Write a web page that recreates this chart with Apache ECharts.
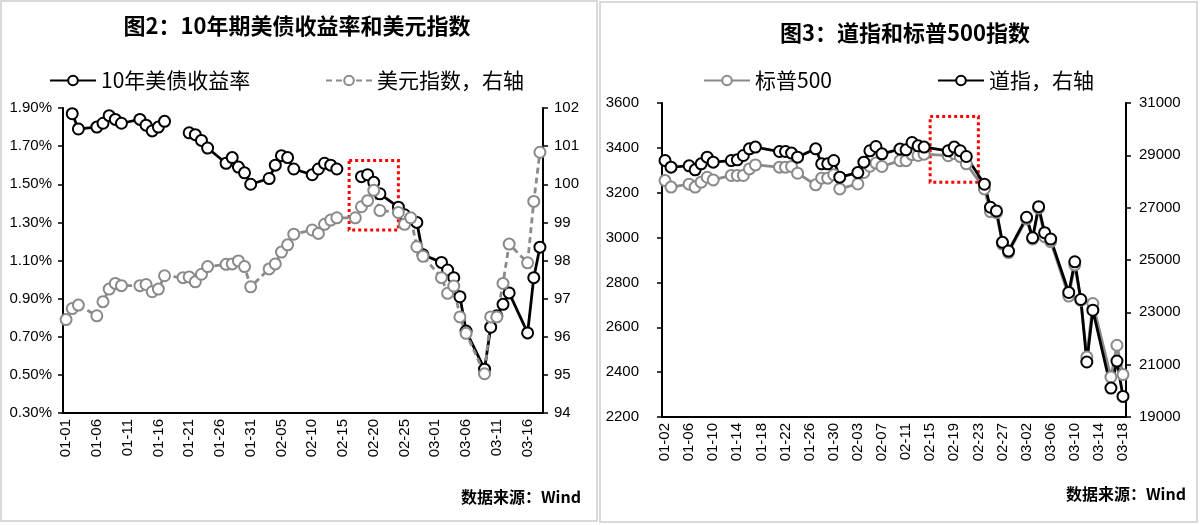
<!DOCTYPE html>
<html>
<head>
<meta charset="utf-8">
<title>图2 图3</title>
<script src="https://cdn.jsdelivr.net/npm/echarts@6/dist/echarts.min.js"></script>
<style>
html,body{margin:0;padding:0;background:#fff;}
#main{width:1201px;height:525px;}
</style>
</head>
<body>
<div id="main"></div>
<script>
// 左图：10年美债收益率(%)和美元指数(右轴)，null 为当日无数据(断线)
var bondDates = ['01-01','01-02','01-03','01-06','01-07','01-08','01-09','01-10','01-13','01-14','01-15','01-16','01-17','01-20','01-21','01-22','01-23','01-24','01-27','01-28','01-29','01-30','01-31',
                 '02-03','02-04','02-05','02-06','02-07','02-10','02-11','02-12','02-13','02-14','02-17','02-18','02-19','02-20','02-21','02-24','02-25','02-26','02-27','02-28',
                 '03-02','03-03','03-04','03-05','03-06','03-09','03-10','03-11','03-12','03-13','03-16','03-17','03-18'];
var yield10y = [null,1.87,1.79,1.80,1.82,1.86,1.84,1.82,1.84,1.81,1.78,1.80,1.83,null,1.77,1.76,1.73,1.69,1.61,1.64,1.59,1.56,1.50,
                1.53,1.60,1.65,1.64,1.58,1.55,1.58,1.61,1.60,1.58,null,1.54,1.55,1.51,1.45,1.38,1.34,1.32,1.30,1.13,
                1.09,1.05,1.01,0.91,0.73,0.53,0.75,0.81,0.87,0.93,0.72,1.01,1.17];
var dxy = [96.45,96.74,96.83,96.55,96.92,97.25,97.40,97.34,97.34,97.37,97.18,97.25,97.60,97.55,97.57,97.44,97.64,97.84,97.90,97.91,97.99,97.84,97.31,
           97.78,97.91,98.22,98.41,98.69,98.80,98.71,98.95,99.06,99.12,99.12,99.41,99.57,99.84,99.31,99.26,98.95,99.12,98.36,98.11,
           97.55,97.14,97.33,96.52,96.09,95.03,96.52,96.52,97.40,98.43,97.94,99.55,100.84];
var yieldTicks = [0.3,0.5,0.7,0.9,1.1,1.3,1.5,1.7,1.9];

// 右图：标普500和道指(右轴)
var stockDates = ['01-02','01-03','01-06','01-07','01-08','01-09','01-10','01-13','01-14','01-15','01-16','01-17','01-21','01-22','01-23','01-24','01-27','01-28','01-29','01-30','01-31',
                  '02-03','02-04','02-05','02-06','02-07','02-10','02-11','02-12','02-13','02-14','02-18','02-19','02-20','02-21','02-24','02-25','02-26','02-27','02-28',
                  '03-02','03-03','03-04','03-05','03-06','03-09','03-10','03-11','03-12','03-13','03-16','03-17','03-18'];
var spx = [3254,3225,3238,3225,3247,3269,3257,3277,3277,3277,3306,3324,3314,3314,3317,3287,3235,3265,3265,3280,3217,
           3239,3290,3318,3332,3317,3343,3343,3370,3366,3372,3365,3375,3361,3329,3217,3116,3111,2971,2933,
           3083,2994,3131,3004,2982,2739,2878,2721,2468,2706,2378,2520,2389];
var dow = [28801,28548,28598,28445,28675,28931,28740,28801,28828,28993,29249,29314,29146,29146,29085,28931,29249,28675,28675,28801,28165,
           28341,28740,29173,29337,29058,29238,29211,29491,29364,29314,29173,29314,29173,28955,27897,27016,26874,25675,25342,
           26633,25851,27039,26043,25801,23760,24932,23491,21101,23081,20105,21139,19787];

// 横轴按自然日排列(2020年，2月29天)
function calendar(m0, d0, m1, d1){
    var len = [31,29,31], out = [];
    for(var m=m0;m<=m1;m++){
        for(var d=(m==m0?d0:1); d<=(m==m1?d1:len[m-1]); d++){
            out.push('0'+m+'-'+(d<10?'0'+d:d));
        }
    }
    return out;
}
var leftDays = calendar(1,1,3,18);
var rightDays = calendar(1,2,3,18);

function pairs(dates, vals){
    var r=[];
    for(var i=0;i<dates.length;i++){
        r.push([dates[i], vals[i]==null ? '-' : vals[i]]);
    }
    return r;
}

var FONT = '"Liberation Sans", Arial, sans-serif';
var CJK = '"Noto Sans CJK SC", sans-serif';

function xAxisOf(grid, days, step){
    return {
        gridIndex: grid, type: 'category', data: days, boundaryGap: true,
        axisLine: {lineStyle: {color: '#000', width: 2}},
        axisTick: {inside: true, length: 5, interval: step-1, lineStyle: {color: '#000', width: 1.5}},
        axisLabel: {interval: step-1, rotate: 90, fontSize: 15, color: '#000', fontFamily: FONT, margin: 6},
        splitLine: {show: false}
    };
}
function yAxisOf(grid, pos, min, max, interval, margin, fmt){
    return {
        gridIndex: grid, type: 'value', position: pos, min: min, max: max, interval: interval,
        axisLine: {show: true, lineStyle: {color: '#000', width: 2}},
        axisTick: {show: true, length: 5, lineStyle: {color: '#000', width: 1.5}},
        axisLabel: {fontSize: 15, color: '#000', fontFamily: FONT, margin: margin,
                    formatter: fmt || function(v){ return String(v); }},
        splitLine: {show: false}
    };
}

var yieldAxis = yAxisOf(0, 'left', 0.3, 1.9, null, 11, function(v){ return v.toFixed(2)+'%'; });
delete yieldAxis.interval;
yieldAxis.axisLabel.customValues = yieldTicks;
yieldAxis.axisTick.customValues = yieldTicks;

var redBox = {
    silent: true,
    itemStyle: {color: 'rgba(0,0,0,0)', borderColor: '#ff0000', borderWidth: 3, borderType: 'dotted'}
};

function lineSeries(name, xi, yi, dates, vals, color, dashed){
    return {
        name: name, type: 'line', xAxisIndex: xi, yAxisIndex: yi,
        data: pairs(dates, vals), connectNulls: false,
        symbol: 'emptyCircle', symbolSize: 11, showAllSymbol: true,
        lineStyle: {color: color, width: 2.8, type: dashed ? [6, 4] : 'solid'},
        itemStyle: {color: color, borderColor: color, borderWidth: 2.2}
    };
}

var s1 = lineSeries('10年美债收益率', 0, 0, bondDates, yield10y, '#000');
s1.markArea = Object.assign({data: [[{xAxis: '02-16', yAxis: 1.625}, {xAxis: '02-24', yAxis: 1.26}]]}, redBox);
var s2 = lineSeries('美元指数，右轴', 0, 1, bondDates, dxy, '#8a8a8a', true);
var s3 = lineSeries('标普500', 1, 2, stockDates, spx, '#8a8a8a');
s3.markArea = Object.assign({data: [[{xAxis: '02-15', yAxis: 3540}, {xAxis: '02-23', yAxis: 3247}]]}, redBox);
var s4 = lineSeries('道指，右轴', 1, 3, stockDates, dow, '#000');

var myChart = echarts.init(document.getElementById('main'));
var option = {
    backgroundColor: '#fff',
    animation: false,
    grid: [
        {left: 63, top: 108, width: 480, height: 305},
        {left: 662, top: 103, width: 464, height: 314}
    ],
    xAxis: [xAxisOf(0, leftDays, 5), xAxisOf(1, rightDays, 4)],
    yAxis: [
        yieldAxis,
        yAxisOf(0, 'right', 94, 102, 1, 11),
        yAxisOf(1, 'left', 2200, 3600, 200, 23),
        yAxisOf(1, 'right', 19000, 31000, 2000, 13)
    ],
    legend: [
        {data: ['10年美债收益率'], left: 44, top: 65},
        {data: ['美元指数，右轴'], left: 320, top: 65},
        {data: ['标普500'], left: 698, top: 65},
        {data: ['道指，右轴'], left: 932, top: 65}
    ].map(function(l){
        l.itemWidth = 46; l.itemHeight = 12;
        l.selectedMode = false;
        l.textStyle = {fontSize: 21, color: '#000', fontFamily: CJK};
        return l;
    }),
    graphic: [
        {type: 'rect', shape: {x: 1, y: 1, width: 596, height: 520}, style: {fill: 'none', stroke: '#d9d9d9', lineWidth: 2}},
        {type: 'rect', shape: {x: 600, y: 2, width: 597, height: 520}, style: {fill: 'none', stroke: '#d9d9d9', lineWidth: 2}},
        {type: 'text', x: 297, y: 26, style: {text: '图2：10年期美债收益率和美元指数', font: 'bold 22px ' + CJK, fill: '#000', align: 'center', verticalAlign: 'middle'}},
        {type: 'text', x: 905, y: 33, style: {text: '图3：道指和标普500指数', font: 'bold 22px ' + CJK, fill: '#000', align: 'center', verticalAlign: 'middle'}},
        {type: 'text', x: 581, y: 497, style: {text: '数据来源：Wind', font: 'bold 16px ' + CJK, fill: '#000', align: 'right', verticalAlign: 'middle'}},
        {type: 'text', x: 1186, y: 494, style: {text: '数据来源：Wind', font: 'bold 16px ' + CJK, fill: '#000', align: 'right', verticalAlign: 'middle'}}
    ],
    series: [s1, s2, s3, s4]
};
myChart.setOption(option);
window.addEventListener('resize', function(){ myChart.resize(); });
</script>
</body>
</html>
